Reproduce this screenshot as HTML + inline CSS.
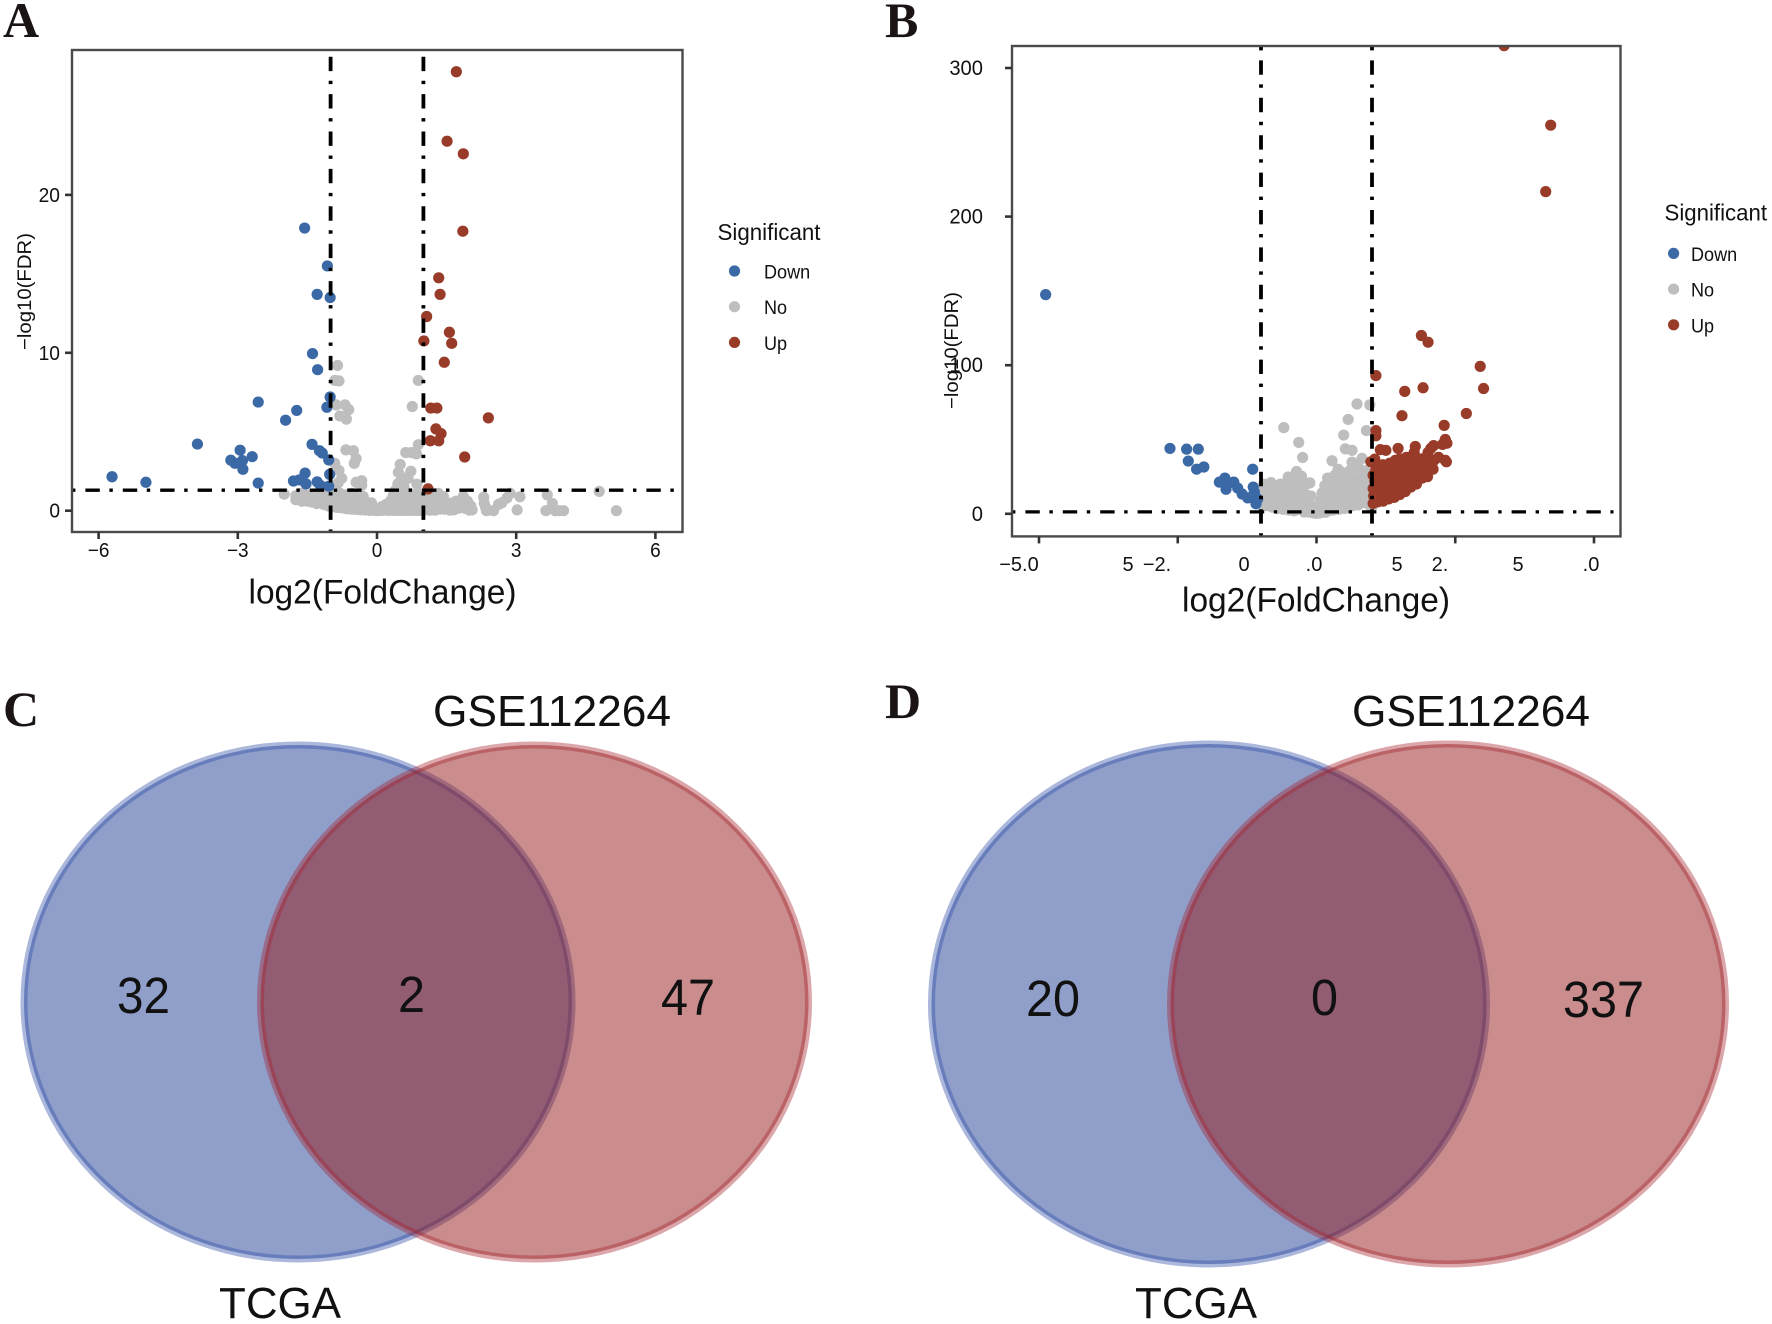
<!DOCTYPE html>
<html>
<head>
<meta charset="utf-8">
<title>Volcano plots and Venn diagrams</title>
<style>
html,body{margin:0;padding:0;background:#fff;width:1772px;height:1324px;overflow:hidden}
svg{display:block}
text{font-family:"Liberation Sans",sans-serif;fill:#111}
.panel-letter{font-family:"Liberation Serif",serif;font-weight:700;font-size:50px;fill:#1a1414}
</style>
</head>
<body>
<svg id="figure" xmlns="http://www.w3.org/2000/svg" width="1772" height="1324" viewBox="0 0 1772 1324">
  <rect width="1772" height="1324" fill="#fff"/>
  <defs>
    <clipPath id="clip-a"><rect x="72" y="50" width="611" height="482"/></clipPath>
    <clipPath id="clip-b"><rect x="1012" y="46" width="608" height="490"/></clipPath>
  </defs>

  <text class="panel-letter" x="3" y="37">A</text>
  <text class="panel-letter" x="885" y="37">B</text>
  <text class="panel-letter" x="3" y="726">C</text>
  <text class="panel-letter" x="885" y="718">D</text>

  <g id="volcano-a"></g>
  <g id="volcano-b"></g>

  <!-- Garbled x tick labels of panel B, reproduced as they are printed -->
  <g font-size="20" text-anchor="middle">
    <text x="1019" y="571">−5.0</text>
    <text x="1128" y="571">5</text>
    <text x="1157" y="571">−2.</text>
    <text x="1244" y="571">0</text>
    <text x="1314" y="571">.0</text>
    <text x="1397" y="571">5</text>
    <text x="1440" y="571">2.</text>
    <text x="1518" y="571">5</text>
    <text x="1591" y="571">.0</text>
  </g>

  <g id="venn-c">
    <ellipse cx="298" cy="1002" rx="274" ry="257" fill="rgb(31,63,149)" fill-opacity="0.5" stroke="rgb(45,75,165)" stroke-opacity="0.4" stroke-width="7"/>
    <ellipse cx="534.5" cy="1002" rx="274" ry="257" fill="rgb(149,25,27)" fill-opacity="0.5" stroke="rgb(165,35,45)" stroke-opacity="0.4" stroke-width="7"/>
    <text x="433" y="726" font-size="44" textLength="238" lengthAdjust="spacingAndGlyphs">GSE112264</text>
    <text x="219" y="1318" font-size="44" textLength="122" lengthAdjust="spacingAndGlyphs">TCGA</text>
    <text x="117" y="1013" font-size="51" textLength="53" lengthAdjust="spacingAndGlyphs">32</text>
    <text x="398" y="1012" font-size="51" textLength="27" lengthAdjust="spacingAndGlyphs">2</text>
    <text x="661" y="1015" font-size="51" textLength="54" lengthAdjust="spacingAndGlyphs">47</text>
  </g>

  <g id="venn-d">
    <ellipse cx="1209" cy="1004" rx="277.5" ry="260" fill="rgb(31,63,149)" fill-opacity="0.5" stroke="rgb(45,75,165)" stroke-opacity="0.4" stroke-width="7"/>
    <ellipse cx="1448" cy="1004" rx="277.5" ry="260" fill="rgb(149,25,27)" fill-opacity="0.5" stroke="rgb(165,35,45)" stroke-opacity="0.4" stroke-width="7"/>
    <text x="1352" y="726" font-size="44" textLength="238" lengthAdjust="spacingAndGlyphs">GSE112264</text>
    <text x="1135" y="1318" font-size="44" textLength="122" lengthAdjust="spacingAndGlyphs">TCGA</text>
    <text x="1026" y="1016" font-size="51" textLength="54" lengthAdjust="spacingAndGlyphs">20</text>
    <text x="1311" y="1015" font-size="51" textLength="27" lengthAdjust="spacingAndGlyphs">0</text>
    <text x="1563" y="1017" font-size="51" textLength="81" lengthAdjust="spacingAndGlyphs">337</text>
  </g>
</svg>

<script>
// ---------- Panel A data: [log2FC, -log10FDR] ----------
const aXTicks = [-6, -3, 0, 3, 6];
const aYTicks = [0, 10, 20];
const aThresholdX = [-1, 1];
const aThresholdY = 1.3;
const aDown = [[-5.71,2.15],[-4.98,1.8],[-3.87,4.22],[-2.56,6.88],[-1.97,5.73],[-1.73,6.35],[-1.56,17.9],[-1.07,15.5],[-1.29,13.7],[-1.01,13.5],[-1.39,9.95],[-1.28,8.93],[-1.01,7.2],[-1.08,6.55],[-3.15,3.2],[-3.06,3.0],[-2.95,3.83],[-2.9,3.17],[-2.89,2.62],[-2.69,3.42],[-2.56,1.75],[-1.4,4.2],[-1.24,3.8],[-1.18,3.65],[-1.04,3.22],[-1.02,2.3],[-1.55,2.38],[-1.8,1.88],[-1.67,1.95],[-1.53,1.7],[-1.29,1.83],[-1.22,1.6],[-1.04,1.55]];
const aUp = [[1.71,27.8],[1.51,23.4],[1.86,22.6],[1.85,17.7],[1.33,14.75],[1.36,13.7],[1.07,12.3],[1.56,11.3],[1.01,10.75],[1.61,10.6],[1.45,9.4],[1.16,6.5],[1.29,6.5],[2.4,5.88],[1.27,5.18],[1.38,4.88],[1.15,4.43],[1.33,4.43],[1.89,3.4],[1.1,1.38]];
const aNoUpper = [[-.85,9.2],[-.91,8.25],[-.82,8.22],[-.88,6.7],[-.69,6.7],[-.61,6.4],[-.8,6.0],[-.66,5.8],[.89,8.25],[.76,6.6],[-.67,3.85],[-.51,3.8],[-.45,3.3],[-.49,3.0],[-.91,3.0],[-.76,2.05],[-.82,2.55],[-.45,1.8],[-.33,1.9],[-.33,1.6],[-.84,1.75],[.62,3.68],[.74,3.68],[.89,4.18],[.85,3.6],[.5,2.93],[.46,2.43],[.73,2.5],[.67,2.05],[.52,1.93],[.86,1.68],[.46,1.68],[.58,1.5]];
const aNoCore = [[-2.0,1.05],[-1.75,.95],[-1.75,.7],[-1.7,.8],[-1.65,1.1],[-1.62,.6],[-1.6,.75],[-1.55,1.0],[-1.5,.6],[-1.5,.8],[-1.45,.85],[-1.4,1.05],[-1.4,.55],[-1.35,.7],[-1.3,.8],[-1.3,.45],[-1.25,1.05],[-1.2,1.0],[-1.2,.65],[-1.15,.4],[-1.1,.85],[-1.1,.55],[-1.05,.3],[-1.0,.6],[-1,1.1],[-.95,.25],[-.9,.9],[-.9,.5],[-.85,.2],[-.8,.7],[-.8,1.1],[-.8,.35],[-.75,.18],[-.7,.45],[-.7,1],[-.65,.12],[-.65,.75],[-.6,.7],[-.6,.3],[-.55,.1],[-.55,1.1],[-.5,.4],[-.45,.08],[-.45,.85],[-.4,.55],[-.4,.2],[-.35,.06],[-.3,.3],[-.3,.9],[-.25,.6],[-.25,.04],[-.2,.3],[-.15,.02],[-.1,.25],[-.05,.02],[-.12,.5],[0,.01],[.05,.02],[.1,.02],[.1,.25],[.15,.03],[.2,.05],[.2,.4],[.25,.02],[.3,.04],[.3,.65],[.3,.3],[.35,.02],[.35,.95],[.4,.03],[.4,.5],[.4,1.3],[.45,.02],[.45,.8],[.45,1.7],[.5,.03],[.5,.35],[.5,1.1],[.5,1.5],[.55,.02],[.55,.7],[.55,2.1],[.6,.03],[.6,.4],[.6,1],[.65,.02],[.65,.7],[.7,.03],[.7,.35],[.7,1.1],[.75,.02],[.75,.65],[.8,.03],[.8,.35],[.8,1],[.85,.02],[.85,.65],[.9,.03],[.9,.35],[.9,1.1],[.95,.02],[.95,.7],[1,.02],[1,.4],[1.02,1.05]];
const aNoTail = [[3.08,.88],[3.02,.05],[4.79,1.22],[5.16,0],[3.67,1.0],[3.78,.46],[3.64,0],[3.84,0],[3.93,0],[4.02,0],[2.87,1.1],[2.8,.8],[2.69,.5],[2.62,.4],[2.51,0],[2.36,0],[2.3,.85],[2.31,.47],[2.34,.22],[2.02,.3],[1.99,.03],[1.86,.9],[1.82,.47],[1.75,.15],[1.57,.03],[1.57,.47],[1.43,.9],[1.39,.47],[1.25,.03],[1.21,.9],[1.32,1.1],[1.14,.47],[1.14,.03],[1.07,.9],[1.45,.1],[1.65,.3],[1.95,.6],[2.05,.05],[1.7,.6],[1.05,.2],[1.2,.5],[1.35,.1],[1.5,.25],[1.65,.05],[1.8,.2],[1.9,.15]];

// ---------- Panel B data: [log2FC, -log10FDR] ----------
const bXTicks = [-5, -2.5, 0, 2.5, 5];
const bYTicks = [0, 100, 200, 300];
const bThresholdX = [-1, 1];
const bThresholdY = 1.3;
const bDown = [[-4.88,147.5],[-2.64,44],[-2.34,43.5],[-2.13,43.5],[-2.31,35.5],[-2.16,30],[-2.03,31.5],[-1.15,30],[-1.75,21.3],[-1.65,24],[-1.63,16.5],[-1.6,20],[-1.49,21.3],[-1.42,17.3],[-1.34,13.3],[-1.24,10.7],[-1.14,18],[-1.12,14.7],[-1.09,6.7],[-1.06,10]];
const bNoOutliers = [[.73,73.9],[.96,73.3],[.57,63.5],[-.59,58],[.9,56],[.49,53],[-.32,48],[.52,43.7],[.64,42.7],[-.25,37.9],[.28,35.7],[.64,34.7],[.82,37.3],[.74,33.3],[.39,30],[-.36,28.5],[-.51,24.8],[-.27,25.3],[-.12,20.8],[.87,29]];
const bNoCore = [[-1,6],[-.98,10],[-.97,15],[-.95,20],[-.9,5.5],[-.9,12],[-.88,17],[-.85,8],[-.82,21],[-.8,4.5],[-.78,13],[-.75,18],[-.72,8],[-.7,3.5],[-.68,15],[-.65,20],[-.62,10],[-.6,3],[-.58,15],[-.55,6],[-.52,22],[-.5,2.5],[-.5,11],[-.47,18],[-.42,7],[-.4,2],[-.38,14],[-.35,22],[-.33,3],[-.3,10],[-.28,18],[-.25,6],[-.22,1.2],[-.2,13],[-.18,20],[-.15,6],[-.12,1],[-.1,12],[-.08,5],[-.05,.5],[-.02,4],[0,.3],[.03,5],[.05,.5],[.07,9],[.1,1],[.1,14],[.13,5],[.15,19],[.16,1],[.18,10],[.2,24],[.22,2],[.23,15],[.25,6],[.28,20],[.3,2.5],[.3,11],[.33,26],[.35,6],[.37,16],[.4,3],[.4,22],[.43,11],[.45,28],[.47,5],[.5,17],[.5,3.5],[.53,24],[.55,10],[.58,4.5],[.6,20],[.6,29],[.63,13],[.65,5.5],[.68,24],[.7,9],[.72,17],[.75,31],[.75,6],[.78,22],[.8,12],[.82,7.5],[.85,27],[.87,18],[.9,9],[.9,23],[.93,14],[.95,6],[.97,20],[.98,10],[1,5],[.98,27]];
const bUpOutliers = [[3.38,315],[4.22,261.5],[4.13,216.8],[1.89,120],[2.01,115.5],[2.95,99.2],[3.01,84.3],[1.07,93],[1.59,82.4],[1.92,84.8],[1.54,66],[2.7,67.5],[2.3,59.5],[1.07,56],[1.07,52.5],[2.32,50],[2.35,47.5],[2.27,46.7],[2.11,45.9],[2.06,44],[2.01,41.3],[1.47,44],[1.78,45.3],[1.76,41.3],[1.76,37.3],[1.15,43.2],[1.25,42.7],[2.32,36],[2.34,35],[1.05,36.8],[.98,35],[1.07,30]];
const bUpCore = [[1.02,7],[1.03,12],[1.02,17],[1.05,22],[1.02,26],[1.1,8],[1.12,14],[1.1,20],[1.13,26],[1.1,30],[1.2,8.5],[1.2,13],[1.22,18],[1.2,23],[1.23,28],[1.2,33],[1.3,10],[1.3,15],[1.32,20],[1.3,25],[1.33,30],[1.32,34],[1.4,11],[1.42,16],[1.4,21],[1.43,26],[1.4,31],[1.42,36],[1.5,13],[1.5,18],[1.52,23],[1.5,28],[1.53,33],[1.5,37],[1.6,15],[1.62,20],[1.6,25],[1.63,30],[1.6,35],[1.62,38],[1.7,18],[1.7,23],[1.73,28],[1.7,33],[1.72,37],[1.8,20],[1.8,25],[1.83,30],[1.8,35],[1.9,24],[1.9,29],[1.93,33],[1.9,37],[2,25],[2.02,30],[2,35],[2.1,30],[2.12,36],[2.2,38]];

const legendEntries = ['Down', 'No', 'Up'];
const legendTitle = 'Significant';

const NS = 'http://www.w3.org/2000/svg';
const COLORS = { Down: '#3a69a5', No: '#bebebe', Up: '#983b28' };
const DOT_R = 5.6;
const THRESHOLD_DASH = '14.4 9.6 3.4 10';

function make(tag, attrs, parent, text) {
  const el = document.createElementNS(NS, tag);
  for (const k in attrs) el.setAttribute(k, attrs[k]);
  if (text !== undefined) el.textContent = text;
  parent.appendChild(el);
  return el;
}

function condense(el, factor) {
  el.setAttribute('textLength', el.getComputedTextLength() * factor);
  el.setAttribute('lengthAdjust', 'spacingAndGlyphs');
}

function linearScale(v0, p0, v1, p1) {
  return function (v) { return p0 + (v - v0) * (p1 - p0) / (v1 - v0); };
}

function drawPoints(g, pts, category, x, y, clip) {
  const layer = make('g', { 'clip-path': 'url(#' + clip + ')' }, g);
  
  
  pts.forEach(function (p) {
    const c = make('circle', { cx: x(p[0]), cy: y(p[1]), r: DOT_R, fill: COLORS[category] }, layer);
    
    
  });
}

function drawVolcano(cfg) {
  const g = document.getElementById(cfg.id);
  const x = cfg.x, y = cfg.y, box = cfg.box;

  drawPoints(g, cfg.no, 'No', x, y, cfg.clip);
  drawPoints(g, cfg.down, 'Down', x, y, cfg.clip);
  drawPoints(g, cfg.up, 'Up', x, y, cfg.clip);

  cfg.thresholdX.forEach(function (v) {
    const l = make('line', { x1: x(v), x2: x(v), y1: cfg.vStart, y2: box.b, stroke: '#000', 'stroke-width': 3.8, 'stroke-dasharray': THRESHOLD_DASH, 'stroke-dashoffset': cfg.vOffset, 'clip-path': 'url(#' + cfg.clip + ')' }, g);
    
    
  });
  const h = make('line', { x1: cfg.hStart, x2: cfg.hEnd, y1: y(cfg.thresholdY), y2: y(cfg.thresholdY), stroke: '#000', 'stroke-width': 3.3, 'stroke-dasharray': THRESHOLD_DASH, 'stroke-dashoffset': 24 }, g);
  
  

  const frame = make('rect', { x: box.l, y: box.t, width: box.r - box.l, height: box.b - box.t, fill: 'none', stroke: '#4a4a4a', 'stroke-width': 2.4 }, g);
  
  

  cfg.xTicks.forEach(function (v) {
    const t = make('line', { x1: x(v), x2: x(v), y1: box.b, y2: box.b + 7, stroke: '#333', 'stroke-width': 2.6 }, g);
    
    
    if (cfg.showXLabels) {
      const lab = make('text', { x: x(v), y: cfg.xLabelY, 'font-size': 20, 'text-anchor': 'middle' }, g, String(v).replace('-', '\u2212'));
      
      
      condense(lab, 0.95);
    }
  });
  cfg.yTicks.forEach(function (v) {
    const t = make('line', { x1: box.l - 7, x2: box.l, y1: y(v), y2: y(v), stroke: '#333', 'stroke-width': 2.6 }, g);
    
    
    const lab = make('text', { x: cfg.yLabelX, y: y(v) + 7, 'font-size': cfg.yLabelSize, 'text-anchor': 'end' }, g, String(v));
    
    
    condense(lab, 0.96);
  });

  const xt = make('text', { x: cfg.xTitle[0], y: cfg.xTitle[1], 'font-size': 34, textLength: 268, lengthAdjust: 'spacingAndGlyphs', fill: '#2a2a2a' }, g, 'log2(FoldChange)');
  
  

  const yt = make('text', { x: 0, y: 0, 'font-size': 19, textLength: 117, lengthAdjust: 'spacingAndGlyphs', transform: 'translate(' + cfg.yTitle[0] + ',' + cfg.yTitle[1] + ') rotate(-90)' }, g, '\u2212log10(FDR)');
  
  

  const legend = make('g', {}, g);
  
  
  const lt = make('text', { x: cfg.legend.titleX, y: cfg.legend.titleY, 'font-size': 23, textLength: cfg.legend.titleW, lengthAdjust: 'spacingAndGlyphs' }, legend, legendTitle);
  
  
  legendEntries.forEach(function (name, i) {
    const cy = cfg.legend.y0 + i * 35.7;
    const d = make('circle', { cx: cfg.legend.dotX, cy: cy, r: DOT_R, fill: COLORS[name] }, legend);
    
    
    const tx = make('text', { x: cfg.legend.labelX, y: cy + 7.5, 'font-size': 19 }, legend, name);
    
    
    condense(tx, 0.95);
  });
}

drawVolcano({
  id: 'volcano-a', clip: 'clip-a',
  x: linearScale(0, 377, 6, 655.4),
  y: linearScale(0, 510.7, 20, 194.9),
  box: { l: 72, r: 682.5, t: 50, b: 532 },
  no: aNoUpper.concat(aNoCore, aNoTail), down: aDown, up: aUp,
  thresholdX: aThresholdX, thresholdY: aThresholdY,
  vStart: 56.7, vOffset: 0, hStart: 72, hEnd: 674,
  xTicks: aXTicks, yTicks: aYTicks, showXLabels: true,
  xLabelY: 557, yLabelX: 60, yLabelSize: 20,
  xTitle: [248.5, 603.5], yTitle: [31, 350],
  legend: { titleX: 717.5, titleY: 240, titleW: 103, dotX: 734.5, labelX: 764, y0: 271 }
});

drawVolcano({
  id: 'volcano-b', clip: 'clip-b',
  x: linearScale(0, 1316.5, 5, 1594),
  y: linearScale(0, 513.8, 300, 68),
  box: { l: 1012, r: 1620.5, t: 46, b: 536.4 },
  no: bNoCore.concat(bNoOutliers), down: bDown, up: bUpCore.concat(bUpOutliers),
  thresholdX: bThresholdX, thresholdY: bThresholdY,
  vStart: 47, vOffset: 24, hStart: 1012, hEnd: 1613.5,
  xTicks: bXTicks, yTicks: bYTicks, showXLabels: false,
  xLabelY: 571, yLabelX: 983, yLabelSize: 21,
  xTitle: [1182, 611.5], yTitle: [958, 409],
  legend: { titleX: 1664.5, titleY: 220.5, titleW: 102.5, dotX: 1673.6, labelX: 1691, y0: 253.4 }
});
</script>
</body>
</html>
